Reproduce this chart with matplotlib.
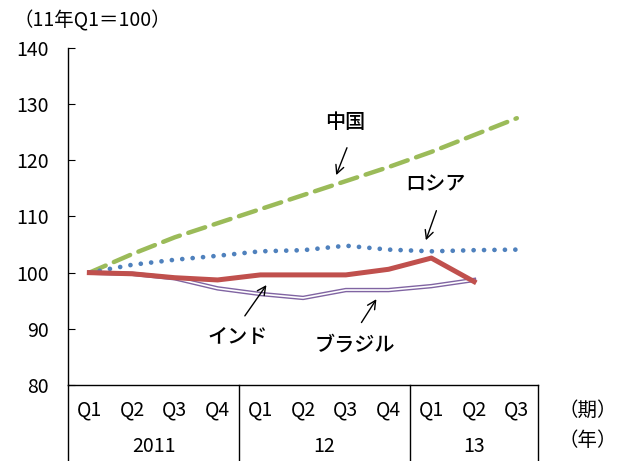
import matplotlib.pyplot as plt
import numpy as np

plt.rcParams['font.family'] = ['Noto Sans CJK JP', 'DejaVu Sans']

quarters = ['Q1', 'Q2', 'Q3', 'Q4', 'Q1', 'Q2', 'Q3', 'Q4', 'Q1', 'Q2', 'Q3']
years = ['2011', '12', '13']
year_spans = [(0, 4), (4, 8), (8, 11)]

china = [100, 103.3, 106.3, 108.8, 111.3, 113.8, 116.3, 118.8, 121.5, 124.5, 127.5]
russia = [100, 101.4, 102.3, 103.0, 103.8, 104.0, 104.8, 104.1, 103.8, 104.0, 104.1]
india = [100, 99.8, 99.1, 98.7, 99.6, 99.6, 99.6, 100.6, 102.6, 98.4]
brazil = [100, 99.8, 99.0, 97.2, 96.2, 95.5, 96.9, 96.9, 97.6, 98.7]

fig = plt.figure(figsize=(6.22, 4.61), dpi=100)
ax = fig.add_axes([0.1093, 0.1649, 0.756, 0.731])

x = np.arange(len(quarters))
ax.plot(x, china, color='#9BBB59', lw=3.2, dashes=(4, 2), dash_capstyle='round')
ax.plot(x, russia, color='#4F81BD', lw=3.4, linestyle=(0, (0.01, 2.2)), dash_capstyle='round')
ax.plot(x[:len(brazil)], brazil, color='#8064A2', lw=3.2)
ax.plot(x[:len(brazil)], brazil, color='white', lw=1.2)
ax.plot(x[:len(india)], india, color='#C0504D', lw=3.6)

ax.set_xlim(-0.5, 10.5)
ax.set_ylim(80, 140)
ax.set_yticks(range(80, 141, 10))
ax.tick_params(axis='y', direction='in', length=5, labelsize=14, pad=14)
ax.set_xticks([])
ax.spines['top'].set_visible(False)
ax.spines['right'].set_visible(False)
ax.spines['bottom'].set_linewidth(1)
ax.spines['left'].set_linewidth(1)

# category table under the axis
tr = ax.get_xaxis_transform()
for i, q in enumerate(quarters):
    ax.text(i, -0.074, q, transform=tr, ha='center', va='center', fontsize=14)
for (a, b), yr in zip(year_spans, years):
    ax.text((a + b - 1) / 2, -0.184, yr, transform=tr, ha='center', va='center', fontsize=14)
for edge in [-0.5, 3.5, 7.5, 10.5]:
    ax.plot([edge, edge], [0, -0.23], transform=tr, color='black', lw=1, clip_on=False)
ax.text(11.65, -0.074, '（期）', transform=tr, ha='center', va='center', fontsize=14)
ax.text(11.65, -0.165, '（年）', transform=tr, ha='center', va='center', fontsize=14)

fig.text(0.022, 0.955, '（11年Q1＝100）', ha='left', va='center', fontsize=14)

arrow = dict(arrowstyle='->', color='black', lw=1, mutation_scale=15)
lab = dict(ha='center', va='center', fontsize=14.5, fontweight='medium')
ax.annotate('', xy=(5.75, 116.9), xytext=(6.05, 122.7), arrowprops=arrow)
ax.text(5.98, 126.8, '中国', **lab)
ax.annotate('', xy=(7.85, 105.3), xytext=(8.14, 111.5), arrowprops=arrow)
ax.text(8.09, 115.6, 'ロシア', **lab)
ax.annotate('', xy=(4.18, 98.2), xytext=(3.6, 91.9), arrowprops=arrow)
ax.text(3.48, 88.4, 'インド', **lab)
ax.annotate('', xy=(6.75, 95.7), xytext=(6.33, 90.7), arrowprops=arrow)
ax.text(6.22, 87.1, 'ブラジル', **lab)

fig.savefig('out.png', dpi=100)
